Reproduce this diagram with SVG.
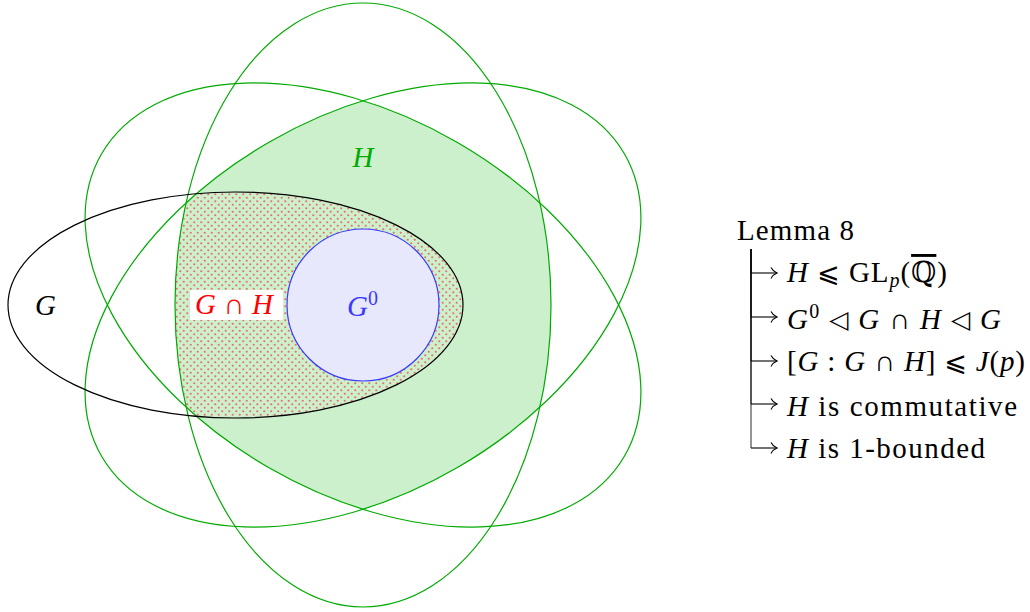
<svg xmlns="http://www.w3.org/2000/svg" width="1030" height="612" viewBox="0 0 1030 612">
<style>
.ell{fill:none;stroke:#00aa00;stroke-width:1.2}
.t{font-family:"Liberation Serif","DejaVu Serif","DejaVu Sans",serif;font-size:29px}
.i{font-style:italic}
.op{font-family:"DejaVu Sans",sans-serif;font-size:27px}
.tri{font-family:"DejaVu Sans",sans-serif;font-size:25px}
.tree{stroke:#000;stroke-width:1.4;stroke-opacity:0.6;fill:none}
.arr{stroke:#000;stroke-width:1.1;fill:none}
</style>
<defs>
<clipPath id="c1"><ellipse cx="363" cy="305" rx="188" ry="302"/></clipPath>
<clipPath id="c2"><ellipse cx="363" cy="305" rx="188" ry="302" transform="rotate(60 363 305)"/></clipPath>
<clipPath id="c3"><ellipse cx="363" cy="305" rx="188" ry="302" transform="rotate(-60 363 305)"/></clipPath>
<clipPath id="cg"><ellipse cx="235.5" cy="305" rx="227.5" ry="113"/></clipPath>
<pattern id="dots" width="7" height="7" patternUnits="userSpaceOnUse">
<circle cx="1.75" cy="1.75" r="1.1" fill="#e8706a"/>
<circle cx="5.25" cy="5.25" r="1.1" fill="#e8706a"/>
</pattern>
<marker id="ah" markerWidth="12" markerHeight="14" refX="9" refY="7" orient="auto" markerUnits="userSpaceOnUse">
<path d="M3,1.5 Q5,5.5 9,7 Q5,8.5 3,12.5" fill="none" stroke="#000" stroke-width="1.1"/>
</marker>
</defs>

<g id="H">
<g clip-path="url(#c1)"><g clip-path="url(#c2)"><g clip-path="url(#c3)">
<rect x="0" y="0" width="1030" height="612" fill="#ccf0cc"/>
</g></g></g>
</g>

<g id="GcapH">
<g clip-path="url(#c1)"><g clip-path="url(#c2)"><g clip-path="url(#c3)"><g clip-path="url(#cg)">
<rect x="0" y="0" width="1030" height="612" fill="url(#dots)"/>
</g></g></g></g>
</g>

<g id="G0">
<circle cx="363" cy="305" r="76" fill="#e8e8fc" stroke="#3a3aff" stroke-width="1.2"/>
<text class="t i" x="347" y="316" fill="#3a3aff">G<tspan font-style="normal" font-size="20" dy="-11">0</tspan></text>
</g>

<g id="ellipses">
<ellipse class="ell" cx="363" cy="305" rx="188" ry="302"/>
<ellipse class="ell" cx="363" cy="305" rx="188" ry="302" transform="rotate(60 363 305)"/>
<ellipse class="ell" cx="363" cy="305" rx="188" ry="302" transform="rotate(-60 363 305)"/>
</g>

<g id="G">
<ellipse cx="235.5" cy="305" rx="227.5" ry="113" fill="none" stroke="#000" stroke-width="1.2"/>
<text class="t i" x="35" y="315" fill="#000">G</text>
</g>

<g id="Hlabel">
<text class="t i" x="363" y="167" fill="#00aa00" text-anchor="middle">H</text>
</g>

<g id="GcapHlabel">
<rect x="190" y="290" width="93" height="30" fill="#fff"/>
<text class="t" x="195" y="314" fill="#ff0000" textLength="78"><tspan class="i">G</tspan> ∩ <tspan class="i">H</tspan></text>
</g>

<g id="lemma">
<text class="t" x="737" y="240" textLength="117">Lemma 8</text>
<text class="t" x="787" y="282" textLength="160"><tspan class="i">H</tspan> <tspan class="op">⩽</tspan> GL<tspan class="i" font-size="20" dy="5">p</tspan><tspan dy="-5">(</tspan><tspan text-decoration="overline">ℚ</tspan>)</text>
<text class="t" x="787" y="329" textLength="214"><tspan class="i">G</tspan><tspan font-size="20" dy="-11">0</tspan><tspan dy="11"> </tspan><tspan class="tri" dy="-1">◁</tspan><tspan dy="1"> </tspan><tspan class="i">G</tspan> ∩ <tspan class="i">H</tspan> <tspan class="tri" dy="-1">◁</tspan><tspan dy="1"> </tspan><tspan class="i">G</tspan></text>
<text class="t" x="787" y="371" textLength="238">[<tspan class="i">G</tspan> : <tspan class="i">G</tspan> ∩ <tspan class="i">H</tspan>] <tspan class="op">⩽</tspan> <tspan class="i">J</tspan>(<tspan class="i">p</tspan>)</text>
<text class="t" x="787" y="416" textLength="230"><tspan class="i">H</tspan> is commutative</text>
<text class="t" x="787" y="458" textLength="198"><tspan class="i">H</tspan> is 1-bounded</text>
</g>

<g id="connectors">
<path class="tree" d="M751,249 V273"/>
<path class="tree" d="M751,249 V317"/>
<path class="tree" d="M751,249 V361"/>
<path class="tree" d="M751,249 V404"/>
<path class="tree" d="M751,249 V448"/>
<path class="arr" d="M751,273 H777" marker-end="url(#ah)"/>
<path class="arr" d="M751,317 H777" marker-end="url(#ah)"/>
<path class="arr" d="M751,361 H777" marker-end="url(#ah)"/>
<path class="arr" d="M751,404 H777" marker-end="url(#ah)"/>
<path class="arr" d="M751,448 H777" marker-end="url(#ah)"/>
</g>
</svg>
